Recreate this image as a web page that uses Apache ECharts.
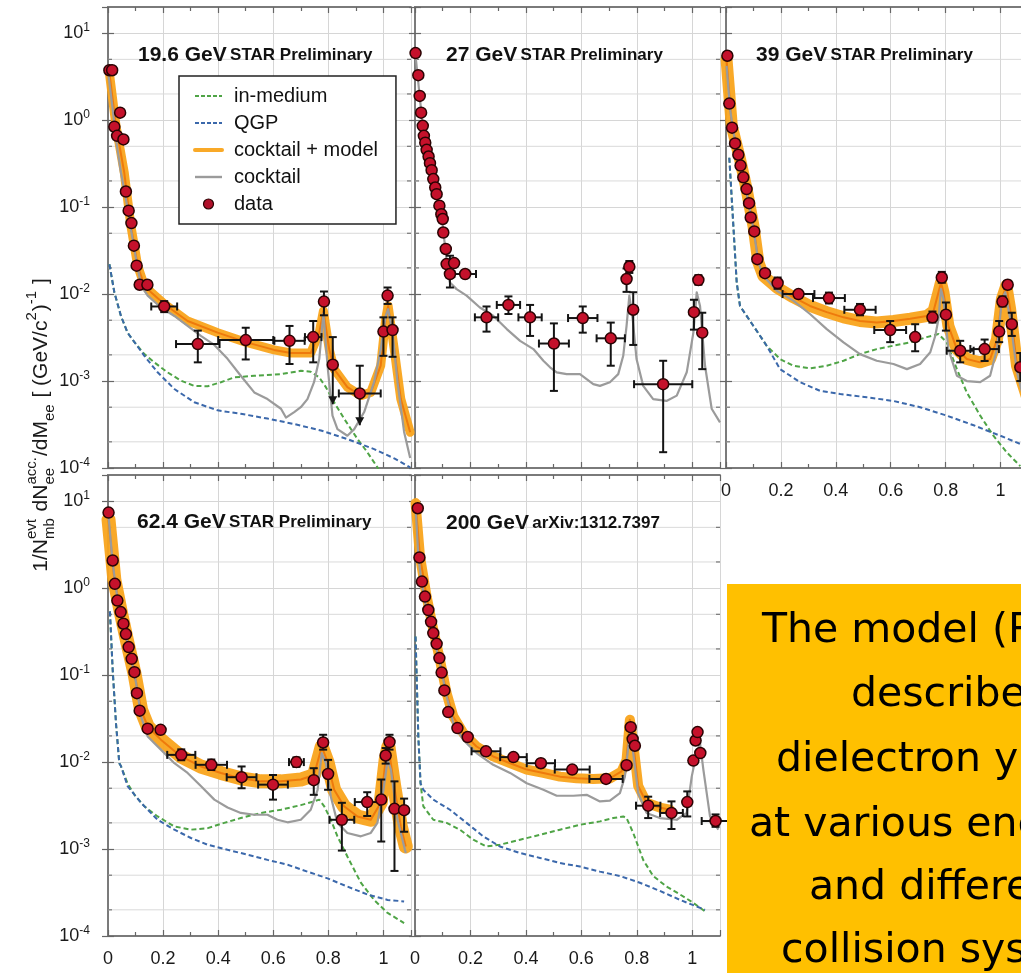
<!DOCTYPE html>
<html><head><meta charset="utf-8">
<script src="https://cdn.jsdelivr.net/npm/echarts@6/dist/echarts.min.js"></script>
<style>html,body{margin:0;padding:0;background:#fff}#c{width:1021px;height:973px}</style>
</head><body><div id="c"></div>
<script>
// ---------------- DATA ----------------
// x: M_ee (GeV/c^2); y: yield. data rows: [M, y, xErr, yLow, yHigh, upperLimitArrow]
const xTicks = [0, 0.2, 0.4, 0.6, 0.8, 1];
const minorGridValues = [2e-4, 5e-4, 2e-3, 5e-3, 2e-2, 5e-2, 0.2, 0.5, 2, 5];

const data196 = [
  [0.005,3.75],[0.015,3.75],[0.023,0.84],[0.033,0.66],[0.044,1.22],[0.056,0.60],[0.065,0.151],[0.075,0.091],
  [0.085,0.0655],[0.094,0.036],[0.104,0.0212],[0.115,0.0128],[0.143,0.0128],
  [0.204,0.0072,0.047,0.0062,0.0083],[0.326,0.00266,0.079,0.00164,0.0038],[0.5,0.00296,0.1,0.00177,0.0041],
  [0.659,0.0029,0.055,0.00157,0.0043],[0.745,0.0032,0.03,0.00164,0.0049],[0.784,0.0082,0,0.0057,0.0107],
  [0.816,0.00154,0.012,0.00054,0.0032,1],[0.914,0.00072,0.076,0.00031,0.0015,1],
  [1.0,0.0037,0,0.00195,0.0054],[1.015,0.0096,0,0.0077,0.0119],[1.033,0.00386,0,0.0019,0.0054]
];
const cocktail196 = [[0.002,3.2],[0.017,1.34],[0.029,0.6],[0.047,0.25],[0.065,0.124],[0.083,0.056],[0.102,0.0252],[0.12,0.0125],[0.144,0.0096],[0.192,0.0070],[0.241,0.0056],[0.289,0.0043],[0.337,0.0033],[0.386,0.0026],[0.434,0.0018],[0.482,0.00115],[0.531,0.00074],[0.579,0.00062],[0.628,0.00048],[0.646,0.00038],[0.676,0.00044],[0.70,0.0005],[0.724,0.00062],[0.748,0.00097],[0.767,0.0018],[0.782,0.0060],[0.797,0.0015],[0.815,0.0004],[0.833,0.00028],[0.869,0.000235],[0.894,0.00028],[0.93,0.00044],[0.966,0.00097],[0.99,0.0023],[1.008,0.0056],[1.017,0.0067],[1.033,0.0036],[1.051,0.00097],[1.075,0.00026],[1.097,0.00013]];
const model196 = [[0.005,3.5],[0.029,0.86],[0.059,0.25],[0.083,0.061],[0.108,0.021],[0.132,0.0125],[0.156,0.0105],[0.204,0.0077],[0.289,0.0049],[0.398,0.0036],[0.5,0.0028],[0.603,0.00228],[0.664,0.0021],[0.736,0.0021],[0.767,0.0036],[0.782,0.0064],[0.803,0.00233],[0.821,0.00137],[0.869,0.00085],[0.918,0.00068],[0.954,0.00074],[0.99,0.0015],[1.008,0.0052],[1.017,0.0073],[1.039,0.00233],[1.063,0.00062],[1.097,0.000257]];
const inmed196 = [[0.005,0.022],[0.023,0.0105],[0.047,0.0056],[0.071,0.0036],[0.096,0.0028],[0.132,0.00204],[0.168,0.00164],[0.216,0.00126],[0.265,0.00101],[0.313,0.00088],[0.362,0.00087],[0.41,0.00097],[0.458,0.0011],[0.531,0.00115],[0.628,0.0012],[0.70,0.00131],[0.736,0.00128],[0.767,0.0011],[0.791,0.00085],[0.821,0.00057],[0.857,0.00037],[0.906,0.000215],[0.942,0.000151],[0.978,0.000102],[1.0,0.00007]];
const qgp196 = [[0.005,0.022],[0.023,0.0105],[0.047,0.0056],[0.071,0.0036],[0.096,0.0028],[0.132,0.00195],[0.18,0.00126],[0.241,0.00081],[0.313,0.00057],[0.398,0.00046],[0.482,0.00042],[0.579,0.00037],[0.676,0.00032],[0.773,0.00027],[0.869,0.000215],[0.966,0.000165],[1.039,0.000129],[1.097,0.000102]];

const data27 = [
  [0.002,5.9],[0.012,3.29],[0.017,1.9],[0.022,1.22],[0.028,0.86],[0.032,0.66],[0.037,0.55],[0.042,0.456],[0.049,0.382],
  [0.054,0.32],[0.06,0.266],[0.066,0.21],[0.073,0.168],[0.078,0.141],[0.088,0.104],[0.095,0.083],[0.1,0.073],[0.102,0.051],
  [0.111,0.033],[0.114,0.0221],[0.126,0.017,0,0.0119,0.0276],[0.141,0.0227],[0.181,0.017,0.039],
  [0.258,0.0054,0.042,0.0037,0.0072],[0.337,0.0075,0.042,0.0059,0.0094],[0.415,0.0054,0.042,0.0033,0.0075],
  [0.501,0.0027,0.054,0.00077,0.0046],[0.605,0.0053,0.053,0.0036,0.0072],[0.706,0.0031,0.051,0.0015,0.0047],
  [0.763,0.0149,0,0.0106,0.0197],[0.773,0.0206,0,0.0175,0.024],[0.787,0.0066,0,0.0026,0.0105],
  [0.895,0.00092,0.105,0.000152,0.00171],[1.006,0.0062,0,0.0039,0.0086],[1.022,0.0145,0,0.0128,0.0165],[1.036,0.0036,0,0.00137,0.0061]
];
const cocktail27 = [[0.002,5.5],[0.018,1.74],[0.03,0.72],[0.054,0.326],[0.078,0.135],[0.096,0.079],[0.108,0.036],[0.12,0.0162],[0.126,0.0136],[0.15,0.0114],[0.186,0.0096],[0.234,0.0070],[0.282,0.00564],[0.331,0.00396],[0.379,0.0029],[0.427,0.00233],[0.463,0.00171],[0.487,0.00144],[0.511,0.00126],[0.547,0.0012],[0.595,0.0012],[0.643,0.00092],[0.667,0.00088],[0.703,0.00097],[0.733,0.0012],[0.751,0.00195],[0.763,0.0043],[0.773,0.0096],[0.785,0.0052],[0.799,0.00179],[0.823,0.00088],[0.859,0.00062],[0.907,0.00059],[0.944,0.00068],[0.98,0.00126],[1.004,0.0036],[1.016,0.0105],[1.028,0.0073],[1.046,0.0015],[1.07,0.00048],[1.1,0.000335]];

const data39 = [
  [0.005,5.5],[0.012,1.55],[0.022,0.82],[0.033,0.54],[0.045,0.40],[0.053,0.30],[0.063,0.22],[0.075,0.161],[0.084,0.111],
  [0.09,0.076],[0.103,0.0525],[0.114,0.0252],[0.142,0.0174],[0.188,0.0134,0,0.0115,0.0155],
  [0.264,0.01,0.058,0.0092,0.0109],[0.375,0.009,0.058,0.0078,0.0104],[0.488,0.0066,0.057,0.0057,0.0077],
  [0.598,0.00386,0.058,0.0028,0.0049],[0.689,0.0032,0,0.0022,0.0045],[0.752,0.0054,0,0.0047,0.0063],
  [0.786,0.0155,0,0.0135,0.018],[0.801,0.0058,0,0.0038,0.008],[0.853,0.00223,0.049,0.00164,0.0029],
  [0.942,0.00233,0.052,0.0017,0.003],[0.995,0.0037,0,0.0028,0.0049],[1.007,0.0082,0,0.0072,0.0094],
  [1.026,0.0128,0,0.0115,0.0142],[1.041,0.0045,0,0.0033,0.0061],[1.072,0.00144,0,0.001,0.0021]
];
const cocktail39 = [[0.002,4.2],[0.015,1.34],[0.027,0.72],[0.051,0.326],[0.075,0.147],[0.1,0.056],[0.118,0.0231],[0.136,0.0162],[0.185,0.0109],[0.245,0.0084],[0.306,0.0059],[0.367,0.00396],[0.428,0.00278],[0.488,0.00204],[0.549,0.00171],[0.61,0.00157],[0.659,0.00137],[0.707,0.00157],[0.744,0.00214],[0.762,0.0033],[0.774,0.00516],[0.783,0.0114],[0.792,0.0088],[0.81,0.00233],[0.841,0.00115],[0.877,0.001],[0.926,0.00097],[0.962,0.00115],[0.987,0.00233],[1.005,0.0088],[1.017,0.0105],[1.035,0.0052],[1.06,0.00126],[1.1,0.0004]];
const model39 = [[0.002,5.0],[0.021,0.86],[0.051,0.356],[0.075,0.161],[0.1,0.061],[0.118,0.0231],[0.136,0.0162],[0.185,0.0119],[0.245,0.0092],[0.306,0.0073],[0.367,0.0062],[0.428,0.0054],[0.488,0.0049],[0.549,0.0047],[0.61,0.0049],[0.671,0.0052],[0.731,0.0056],[0.756,0.0064],[0.774,0.0105],[0.783,0.0136],[0.792,0.0105],[0.81,0.0043],[0.841,0.00233],[0.877,0.00179],[0.926,0.00164],[0.962,0.00179],[0.987,0.0030],[1.005,0.0088],[1.021,0.0125],[1.035,0.0067],[1.06,0.0015],[1.1,0.0006]];
const inmed39 = [[0.012,0.37],[0.021,0.124],[0.039,0.0136],[0.051,0.0073],[0.1,0.0043],[0.148,0.00255],[0.197,0.00179],[0.245,0.0015],[0.306,0.0014],[0.367,0.0015],[0.428,0.00171],[0.488,0.00204],[0.549,0.00233],[0.61,0.00255],[0.671,0.00278],[0.731,0.0032],[0.774,0.00347],[0.804,0.00278],[0.841,0.00137],[0.877,0.00074],[0.926,0.0004],[0.974,0.000235],[1.023,0.000151],[1.072,0.000105]];
const qgp39 = [[0.012,0.37],[0.021,0.124],[0.039,0.0136],[0.051,0.0073],[0.1,0.0043],[0.148,0.00255],[0.197,0.00137],[0.27,0.00097],[0.343,0.00077],[0.416,0.00071],[0.513,0.00065],[0.61,0.00059],[0.707,0.0005],[0.804,0.0004],[0.902,0.00031],[0.999,0.000235],[1.072,0.000189]];

const data62 = [
  [0.002,7.4],[0.017,2.08],[0.025,1.12],[0.034,0.72],[0.046,0.53],[0.056,0.39],[0.065,0.296],[0.075,0.21],[0.086,0.154],
  [0.096,0.108],[0.105,0.062],[0.115,0.039],[0.144,0.0242],[0.191,0.0235],
  [0.266,0.0121,0.051,0.0105,0.014],[0.375,0.0093,0.057,0.0081,0.0107],[0.485,0.0067,0.054,0.005,0.0089],
  [0.599,0.0055,0.054,0.0037,0.0071],[0.684,0.01,0.027,0.0088,0.0113],[0.747,0.0062,0,0.0042,0.0085],
  [0.781,0.0168,0,0.0139,0.0206],[0.799,0.0073,0,0.0048,0.0106],[0.849,0.00217,0.045,0.00096,0.0034],
  [0.941,0.00347,0.045,0.0024,0.0045],[0.992,0.0037,0,0.00122,0.0063],[1.008,0.0119,0,0.0096,0.0145],
  [1.022,0.017,0,0.0139,0.0206],[1.04,0.0029,0,0.00056,0.006],[1.075,0.0028,0,0.00158,0.0038]
];
const cocktail62 = [[0.002,6.7],[0.017,1.94],[0.035,0.73],[0.059,0.332],[0.083,0.164],[0.102,0.081],[0.12,0.0335],[0.144,0.0197],[0.192,0.0139],[0.241,0.0097],[0.289,0.0075],[0.337,0.0053],[0.386,0.0037],[0.434,0.0030],[0.482,0.0026],[0.531,0.00248],[0.579,0.00248],[0.615,0.00217],[0.652,0.00203],[0.70,0.00217],[0.736,0.00283],[0.761,0.0048],[0.776,0.0127],[0.791,0.0097],[0.809,0.004],[0.833,0.002],[0.869,0.00153],[0.918,0.0014],[0.954,0.00153],[0.978,0.002],[1.0,0.0048],[1.015,0.0106],[1.027,0.0082],[1.051,0.00217],[1.081,0.0009]];
const model62 = [[0.002,6.1],[0.023,1.25],[0.047,0.52],[0.071,0.233],[0.096,0.105],[0.12,0.04],[0.144,0.0257],[0.192,0.0181],[0.265,0.0116],[0.337,0.0089],[0.41,0.0075],[0.482,0.0065],[0.555,0.006],[0.628,0.006],[0.70,0.0063],[0.748,0.0071],[0.776,0.0151],[0.797,0.01],[0.821,0.0048],[0.857,0.0031],[0.906,0.00237],[0.954,0.00217],[0.99,0.0034],[1.008,0.0106],[1.018,0.0151],[1.039,0.0053],[1.063,0.00182],[1.081,0.00107]];
const inmed62 = [[0.007,0.54],[0.017,0.115],[0.029,0.028],[0.041,0.0097],[0.047,0.009],[0.071,0.0057],[0.096,0.0042],[0.132,0.0031],[0.18,0.00237],[0.241,0.00182],[0.301,0.00167],[0.362,0.00174],[0.422,0.002],[0.482,0.00227],[0.555,0.0026],[0.628,0.00283],[0.70,0.0032],[0.748,0.00353],[0.767,0.0037],[0.785,0.0031],[0.809,0.00217],[0.833,0.0014],[0.869,0.00082],[0.918,0.00041],[0.966,0.00026],[1.015,0.000184],[1.075,0.000141]];
const qgp62 = [[0.007,0.54],[0.017,0.115],[0.029,0.028],[0.041,0.0097],[0.047,0.009],[0.071,0.0053],[0.12,0.0034],[0.18,0.00217],[0.241,0.00167],[0.301,0.00134],[0.362,0.00112],[0.434,0.00098],[0.507,0.00086],[0.579,0.00075],[0.652,0.00066],[0.724,0.00055],[0.797,0.00046],[0.869,0.00037],[0.942,0.0003],[1.015,0.00026],[1.075,0.00025]];

const data200 = [
  [0.01,8.3],[0.016,2.25],[0.025,1.19],[0.036,0.80],[0.048,0.56],[0.058,0.41],[0.066,0.304],[0.078,0.229],[0.088,0.157],
  [0.096,0.107],[0.106,0.0667],[0.12,0.0376],[0.153,0.0246],[0.19,0.0194],
  [0.256,0.0133,0.052,0.0123,0.0144],[0.355,0.0114,0.048,0.0105,0.0124],[0.454,0.0097,0.051,0.0089,0.0106],
  [0.567,0.0082,0.063,0.0075,0.009],[0.689,0.0064,0.06,0.0058,0.0071],[0.763,0.0092,0,0.0085,0.01],
  [0.778,0.0252,0,0.0232,0.0274],[0.785,0.0184],[0.793,0.0154],[0.841,0.00315,0.044,0.00227,0.004],
  [0.925,0.0026,0.041,0.0017,0.00353],[0.982,0.00347,0,0.00237,0.0046],[1.004,0.0104],[1.012,0.0177],
  [1.019,0.0221],[1.029,0.0127],[1.084,0.0021,0.05,0.0018,0.0025]
];
const cocktail200 = [[0.002,8.7],[0.012,2.3],[0.024,1.14],[0.042,0.56],[0.066,0.278],[0.09,0.137],[0.114,0.057],[0.138,0.028],[0.174,0.018],[0.222,0.0127],[0.282,0.0093],[0.343,0.0075],[0.403,0.0057],[0.463,0.0048],[0.511,0.0041],[0.571,0.0041],[0.619,0.0042],[0.667,0.00353],[0.703,0.0036],[0.739,0.0044],[0.757,0.0068],[0.775,0.0215],[0.787,0.0127],[0.805,0.0044],[0.835,0.0026],[0.883,0.00227],[0.944,0.00217],[0.98,0.0026],[0.998,0.0068],[1.013,0.0116],[1.028,0.0165],[1.04,0.0082],[1.064,0.00237],[1.094,0.00167]];
const model200 = [[0.002,9.5],[0.018,2.3],[0.042,0.8],[0.066,0.332],[0.09,0.15],[0.114,0.062],[0.138,0.0335],[0.174,0.0215],[0.222,0.0151],[0.282,0.0116],[0.343,0.0097],[0.403,0.0082],[0.463,0.0075],[0.523,0.0068],[0.583,0.0065],[0.643,0.0064],[0.703,0.0065],[0.745,0.0078],[0.763,0.0106],[0.775,0.0307],[0.787,0.0165],[0.805,0.0053],[0.835,0.0034],[0.883,0.003],[0.919,0.00283]];
const inmed200 = [[0.002,0.278],[0.012,0.0197],[0.02,0.0057],[0.03,0.0031],[0.066,0.00217],[0.114,0.002],[0.162,0.00167],[0.21,0.00128],[0.258,0.00107],[0.306,0.00112],[0.379,0.00128],[0.451,0.00146],[0.523,0.00167],[0.595,0.0019],[0.667,0.00208],[0.715,0.00227],[0.751,0.00237],[0.763,0.00227],[0.787,0.00153],[0.823,0.00075],[0.859,0.00049],[0.907,0.00037],[0.956,0.0003],[1.004,0.00024],[1.046,0.000192]];
const qgp200 = [[0.002,0.278],[0.012,0.0197],[0.02,0.0057],[0.03,0.0048],[0.066,0.0037],[0.126,0.00283],[0.186,0.002],[0.246,0.0014],[0.306,0.00107],[0.379,0.0009],[0.451,0.00079],[0.523,0.00069],[0.595,0.00063],[0.667,0.00055],[0.739,0.00049],[0.811,0.00041],[0.883,0.00033],[0.956,0.00026],[1.046,0.0002]];

const legendNames = ['in-medium', 'QGP', 'cocktail + model', 'cocktail', 'data'];
const boxLines = ['The model (Rapp)', 'describes', 'dielectron yields', 'at various energies', 'and different', 'collision systems'];
const yTitleSegs = [{t:'1/N'},{sup:'evt',sub:'mb'},{t:' dN'},{sup:'acc.',sub:'ee'},{t:'/dM'},{sub:'ee'},{t:' [ (GeV/c'},{sup:'2'},{t:')'},{sup:'-1'},{t:' ]'}];

// ---------------- LAYOUT / STYLE ----------------
const FONT = '"Liberation Sans", Arial, Helvetica, sans-serif';
const GREEN = '#4fa446', BLUE = '#3b68ab', GRAY = '#9b9b9b', ORANGE = '#f9a41c', ORANGE_D = '#ee7a0c';
const panels = [
  {left:108, top:7, width:303, height:461, xLabel:false, yLabel:true, energy:'19.6 GeV', note:'STAR Preliminary', tx:138, ty:55, bandW:9,
   data:data196, cocktail:cocktail196, model:model196, inmed:inmed196, qgp:qgp196},
  {left:415, top:7, width:305, height:461, xLabel:false, yLabel:false, energy:'27 GeV', note:'STAR Preliminary', tx:446, ty:55, bandW:0,
   data:data27, cocktail:cocktail27},
  {left:726, top:7, width:302, height:461, xLabel:true, yLabel:false, energy:'39 GeV', note:'STAR Preliminary', tx:756, ty:55, bandW:12,
   data:data39, cocktail:cocktail39, model:model39, inmed:inmed39, qgp:qgp39},
  {left:108, top:475, width:303, height:461, xLabel:true, yLabel:true, energy:'62.4 GeV', note:'STAR Preliminary', tx:137, ty:522, bandW:14,
   data:data62, cocktail:cocktail62, model:model62, inmed:inmed62, qgp:qgp62},
  {left:415, top:475, width:305, height:461, xLabel:true, yLabel:false, energy:'200 GeV', note:'arXiv:1312.7397', tx:446, ty:523, bandW:10,
   data:data200, cocktail:cocktail200, model:model200, inmed:inmed200, qgp:qgp200}
];

function pad(r){ const o = r.slice(); while (o.length < 6) o.push(0); return o; }

function minorGridItem(params, api) {
  const cs = params.coordSys;
  const y = api.coord([api.value(0), api.value(1)])[1];
  return {type:'group', children:[
    {type:'line', shape:{x1:cs.x, y1:y, x2:cs.x + cs.width, y2:y}, style:{stroke:'#dadada', lineWidth:1}},
    {type:'line', shape:{x1:cs.x, y1:y, x2:cs.x + 4, y2:y}, style:{stroke:'#777', lineWidth:1.2}},
    {type:'line', shape:{x1:cs.x + cs.width - 4, y1:y, x2:cs.x + cs.width, y2:y}, style:{stroke:'#777', lineWidth:1.2}}
  ]};
}

function errorBarItem(params, api) {
  const x = api.value(0), y = api.value(1), dx = api.value(2), lo = api.value(3), hi = api.value(4), arrow = api.value(5);
  const st = {stroke:'#141414', lineWidth:2};
  const kids = [];
  if (dx > 0) {
    const a = api.coord([x - dx, y]), b = api.coord([x + dx, y]);
    kids.push({type:'line', shape:{x1:a[0], y1:a[1], x2:b[0], y2:b[1]}, style:st});
    kids.push({type:'line', shape:{x1:a[0], y1:a[1]-4, x2:a[0], y2:a[1]+4}, style:st});
    kids.push({type:'line', shape:{x1:b[0], y1:b[1]-4, x2:b[0], y2:b[1]+4}, style:st});
  }
  if (lo > 0 && hi > 0) {
    const t = api.coord([x, hi]), b = api.coord([x, lo]);
    kids.push({type:'line', shape:{x1:t[0], y1:t[1], x2:b[0], y2:b[1]}, style:st});
    kids.push({type:'line', shape:{x1:t[0]-4, y1:t[1], x2:t[0]+4, y2:t[1]}, style:st});
    if (arrow) kids.push({type:'polygon', shape:{points:[[b[0]-4.5, b[1]-8], [b[0]+4.5, b[1]-8], [b[0], b[1]]]}, style:{fill:'#141414'}});
    else kids.push({type:'line', shape:{x1:b[0]-4, y1:b[1], x2:b[0]+4, y2:b[1]}, style:st});
  }
  return {type:'group', children:kids};
}

function yFmt(v) {
  const l = Math.log10(v), n = Math.round(l);
  if (Math.abs(l - n) > 1e-6) return '';
  return '{b|10}{s|' + n + '}';
}
function xFmt(v) {
  const hit = xTicks.find(t => Math.abs(t - v) < 1e-6);
  return hit === undefined ? '' : String(hit);
}

const grid = [], xAxis = [], yAxis = [], series = [], graphics = [];
const axisLine = {show:true, lineStyle:{color:'#7a7a7a', width:1.8}};
const tick = {show:true, inside:true, length:6, lineStyle:{color:'#666', width:1.2}};
const minorTick = {show:true, splitNumber:2, length:4, lineStyle:{color:'#666', width:1.2}};

panels.forEach((p, i) => {
  grid.push({left:p.left, top:p.top, width:p.width, height:p.height, containLabel:false, outerBoundsMode:'none', show:false});
  xAxis.push({gridIndex:i, type:'value', min:0, max:1.1, interval:0.2, position:'bottom', axisLine, axisTick:tick, minorTick,
    splitLine:{show:true, lineStyle:{color:'#d6d6d6', width:1}},
    axisLabel:{show:p.xLabel, margin:14, fontSize:18, color:'#1a1a1a', fontFamily:FONT, formatter:xFmt, showMaxLabel:false}});
  xAxis.push({gridIndex:i, type:'value', min:0, max:1.1, interval:0.2, position:'top', axisLine, axisTick:tick, minorTick,
    splitLine:{show:false}, axisLabel:{show:false}});
  yAxis.push({gridIndex:i, type:'log', logBase:10, min:1e-4, max:20, position:'left', axisLine, axisTick:tick,
    splitLine:{show:true, lineStyle:{color:'#d6d6d6', width:1}},
    axisLabel:{show:p.yLabel, margin:18, formatter:yFmt, showMaxLabel:false,
      rich:{b:{fontSize:18, fontFamily:FONT, color:'#1a1a1a', lineHeight:22}, s:{fontSize:12, fontFamily:FONT, color:'#1a1a1a', verticalAlign:'top', lineHeight:14}}}});
  yAxis.push({gridIndex:i, type:'log', logBase:10, min:1e-4, max:20, position:'right', axisLine, axisTick:tick,
    splitLine:{show:false}, axisLabel:{show:false}});

  const ax = {xAxisIndex:2*i, yAxisIndex:2*i};
  series.push(Object.assign({type:'custom', name:'_grid'+i, silent:true, z:1, data:minorGridValues.map(v => [0.5, v]),
    encode:{x:0, y:1}, renderItem:minorGridItem}, ax));
  if (p.inmed) series.push(Object.assign({type:'line', name:'in-medium', data:p.inmed, symbol:'none', color:GREEN, z:3,
    lineStyle:{color:GREEN, width:2, type:[5,3]}, itemStyle:{color:GREEN}}, ax));
  if (p.qgp) series.push(Object.assign({type:'line', name:'QGP', data:p.qgp, symbol:'none', color:BLUE, z:3,
    lineStyle:{color:BLUE, width:2, type:[5,3]}, itemStyle:{color:BLUE}}, ax));
  if (p.model) {
    series.push(Object.assign({type:'line', name:'cocktail + model', data:p.model, symbol:'none', color:ORANGE, z:4,
      lineStyle:{color:ORANGE, width:p.bandW, cap:'round', join:'round', opacity:0.95}, itemStyle:{color:ORANGE}}, ax));
    series.push(Object.assign({type:'line', name:'cocktail + model', data:p.model, symbol:'none', color:ORANGE_D, z:4,
      lineStyle:{color:ORANGE_D, width:2, join:'round'}, itemStyle:{color:ORANGE_D}}, ax));
  }
  series.push(Object.assign({type:'line', name:'cocktail', data:p.cocktail, symbol:'none', color:GRAY, z:5,
    lineStyle:{color:GRAY, width:2.2, join:'round'}, itemStyle:{color:GRAY}}, ax));
  const rows = p.data.map(pad);
  series.push(Object.assign({type:'custom', name:'_err'+i, silent:true, z:6, data:rows,
    dimensions:['m','y','dx','lo','hi','arr'], encode:{x:'m', y:'y'}, renderItem:errorBarItem}, ax));
  series.push(Object.assign({type:'scatter', name:'data', data:rows.map(r => [r[0], r[1]]), symbol:'circle', symbolSize:11, z:7,
    itemStyle:{color:'#c5112b', borderColor:'#2a0303', borderWidth:1.5, opacity:1}, color:'#c5112b'}, ax));

  graphics.push({type:'text', x:p.tx, y:p.ty, z:20, style:{
    text:'{a|' + p.energy + '} {b|' + p.note + '}',
    rich:{a:{fontSize:21, fontWeight:'bold', fontFamily:FONT, fill:'#111'}, b:{fontSize:17, fontWeight:'bold', fontFamily:FONT, fill:'#111'}},
    align:'left', textAlign:'left', verticalAlign:'middle', textVerticalAlign:'middle'}});
});

// rotated y-axis title with sub/superscripts
const mctx = document.createElement('canvas').getContext('2d');
function tw(t, s) { mctx.font = s + 'px ' + FONT; return mctx.measureText(t).width; }
const MAIN = 21, SMALL = 15;
function seg(t, x, y, s) {
  return {type:'text', x:x, y:y, style:{text:t, font:s + 'px ' + FONT, fill:'#1a1a1a', align:'left', textAlign:'left', verticalAlign:'bottom', textVerticalAlign:'bottom'}};
}
let cx = 0; const tkids = [];
yTitleSegs.forEach(s => {
  if (s.t) { tkids.push(seg(s.t, cx, 4, MAIN)); cx += tw(s.t, MAIN); }
  else {
    let w = 0;
    if (s.sup) { tkids.push(seg(s.sup, cx, -9, SMALL)); w = Math.max(w, tw(s.sup, SMALL)); }
    if (s.sub) { tkids.push(seg(s.sub, cx, 9, SMALL)); w = Math.max(w, tw(s.sub, SMALL)); }
    cx += w + 1;
  }
});
graphics.push({type:'group', x:48, y:425 + cx / 2, rotation:Math.PI / 2, children:tkids, z:20});

// yellow call-out box
graphics.push({type:'rect', z:30, shape:{x:727, y:584, width:420, height:420}, style:{fill:'#FFC000'}});
const boxX = [762, 851, 776, 749, 809, 781];
const boxY = [631, 695, 760, 825, 888, 951];
boxLines.forEach((t, k) => {
  graphics.push({type:'text', z:31, x:boxX[k], y:boxY[k], style:{text:t, font:'41px "DejaVu Sans", sans-serif', fill:'#000',
    align:'left', textAlign:'left', verticalAlign:'middle', textVerticalAlign:'middle'}});
});

const hiddenSymbol = {opacity:0, borderWidth:0};
const chart = echarts.init(document.getElementById('c'), null, {renderer:'canvas'});
chart.setOption({
  animation:false,
  backgroundColor:'#ffffff',
  grid, xAxis, yAxis, series,
  legend:{
    data:[
      {name:legendNames[0], itemStyle:hiddenSymbol, lineStyle:{width:2, color:GREEN, type:[4,2]}},
      {name:legendNames[1], itemStyle:hiddenSymbol, lineStyle:{width:2, color:BLUE, type:[4,2]}},
      {name:legendNames[2], itemStyle:hiddenSymbol, lineStyle:{width:4, color:ORANGE, type:'solid'}},
      {name:legendNames[3], itemStyle:hiddenSymbol, lineStyle:{width:2.4, color:GRAY, type:'solid'}},
      {name:legendNames[4], icon:'circle', itemStyle:{color:'#b0102a', borderColor:'#2a0303', borderWidth:1.2}}
    ],
    orient:'vertical', left:179, top:76, padding:[9, 18, 9, 14], itemGap:5, itemWidth:27, itemHeight:10,
    backgroundColor:'#fff', borderColor:'#222', borderWidth:1.5, borderRadius:0, selectedMode:false, z:15,
    textStyle:{fontSize:20, lineHeight:22, color:'#111', fontFamily:FONT, padding:[0, 0, 0, 7]}
  },
  graphic:{elements:graphics}
});
</script></body></html>
